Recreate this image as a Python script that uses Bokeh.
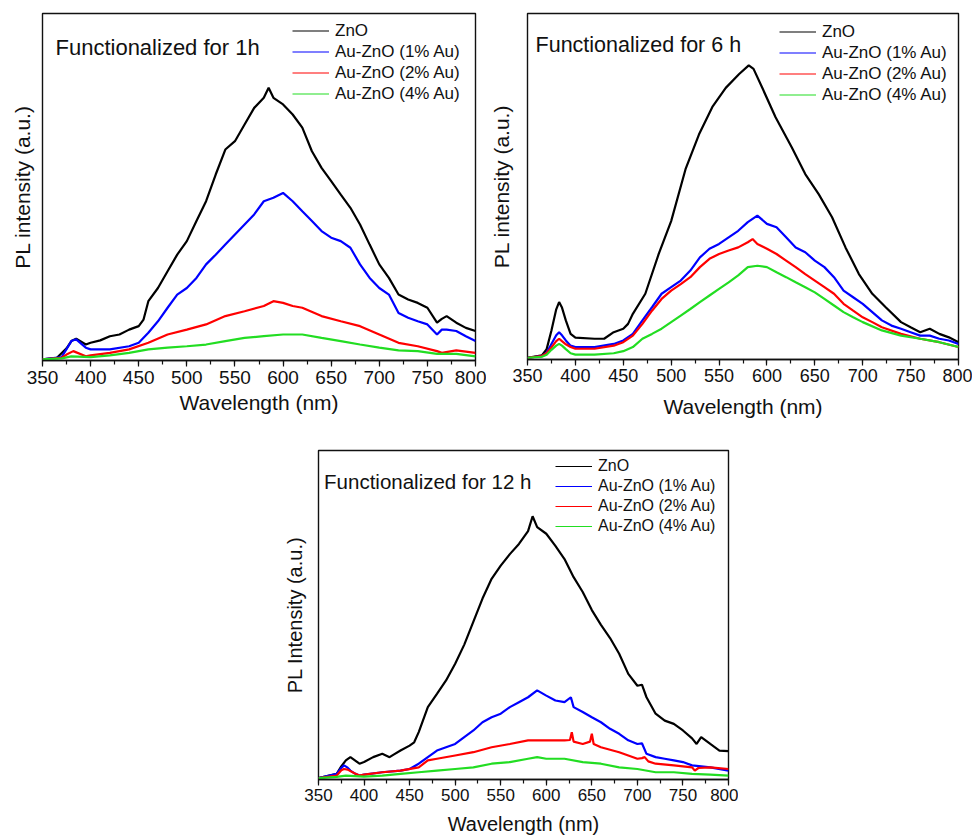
from bokeh.plotting import figure
from bokeh.layouts import column, row, Spacer
from bokeh.models import (Range1d, SingleIntervalTicker, FixedTicker, Legend,
                          LegendItem, Label)
from bokeh.embed import file_html
from bokeh.resources import INLINE

FONT = "Liberation Sans"
NAN = float("nan")

SERIES_NAMES = ["ZnO", "Au-ZnO (1% Au)", "Au-ZnO (2% Au)", "Au-ZnO (4% Au)"]
SERIES_COLORS = ["#000000", "#0000ff", "#ff0000", "#22dd22"]

# ---------------- Functionalized for 1 h ----------------
wl_1h_zno = [350, 365, 375, 380, 385, 395, 400, 410, 420, 430, 440, 450, 455, 460, 470,
             480, 490, 500, 510, 520, 530, 540, 550, 560, 570, 580, 585, 590, 600, 610,
             620, 630, 640, 650, 660, 670, 680, 690, 700, 710, 720, 730, 740, 750, 760,
             765, 770, 780, 790, 800]
pl_1h_zno = [0.3, 0.8, 3.5, 5.6, 6.3, 4.6, 5.1, 5.8, 7.0, 7.5, 8.9, 9.9, 11.8, 17.1, 20.9,
             25.7, 30.5, 34.4, 40.2, 45.9, 53.6, 60.8, 63.2, 68.0, 72.8, 75.7, 78.6, 75.7,
             73.8, 70.9, 67.1, 60.3, 55.5, 51.7, 47.8, 44.0, 39.2, 33.4, 27.7, 23.8, 19.0,
             17.6, 16.6, 15.2, 10.9, 12.0, 12.8, 10.9, 9.4, 8.5]

wl_1h_au1 = [350, 370, 380, 385, 395, 400, 420, 440, 450, 460, 470, 480, 490, 500, 510,
             520, 530, 540, 550, 560, 570, 580, 590, 600, 610, 620, 630, 640, 650, 660,
             670, 680, 690, 700, 710, 720, 730, 740, 750, 760, 765, 770, 780, 790, 800]
pl_1h_au1 = [0.3, 1.0, 5.6, 6.1, 3.7, 3.2, 3.2, 4.1, 5.1, 8.0, 11.3, 15.2, 19.0, 20.9, 23.8,
             27.7, 30.5, 33.4, 36.3, 39.2, 42.1, 45.9, 46.9, 48.3, 45.9, 43.0, 40.2, 37.3,
             35.4, 34.4, 32.5, 27.7, 23.8, 20.9, 19.0, 13.7, 12.3, 11.3, 10.4, 7.5, 8.9,
             8.9, 8.5, 7.0, 5.6]

wl_1h_au2 = [350, 370, 375, 382, 395, 400, 420, 440, 460, 480, 500, 520, 540, 560, 580,
             590, 600, 610, 620, 640, 660, 680, 700, 720, 740, 760, 765, 780, 800]
pl_1h_au2 = [0.3, 0.8, 1.7, 2.7, 1.2, 1.5, 2.2, 3.2, 5.1, 7.5, 8.9, 10.4, 12.8, 14.2, 15.7,
             17.1, 16.6, 15.7, 15.2, 12.8, 11.3, 9.9, 7.5, 5.1, 4.1, 2.7, 2.2, 2.9, 2.2]

wl_1h_au4 = [350, 370, 380, 400, 420, 440, 460, 480, 500, 520, 540, 560, 580, 600, 620,
             640, 660, 680, 700, 720, 740, 760, 780, 800]
pl_1h_au4 = [0.3, 0.6, 1.2, 1.0, 1.5, 2.2, 3.2, 3.7, 4.1, 4.6, 5.6, 6.5, 7.0, 7.5, 7.5,
             6.5, 5.6, 4.6, 3.7, 2.9, 2.7, 1.9, 1.9, 1.2]

# ---------------- Functionalized for 6 h ----------------
wl_6h_zno = [350, 365, 370, 375, 380, 383, 386, 390, 395, 400, 420, 430, 440, 450, 455,
             460, 473, 487, 500, 515, 529, 543, 557, 571, 581, 586, 595, 609, 626, 640,
             654, 668, 682, 696, 710, 724, 740, 750, 760, 770, 780, 790, 800]
pl_6h_zno = [0.5, 1.2, 3.0, 8.4, 14.5, 16.6, 15.0, 11.3, 7.4, 6.3, 6.0, 6.0, 7.9, 8.9, 10.3,
             13.2, 19.0, 30.5, 40.0, 55.0, 65.0, 73.0, 78.5, 82.5, 85.0, 84.0, 78.6, 70.0,
             61.3, 53.6, 47.8, 41.1, 32.4, 24.7, 19.0, 15.1, 10.8, 9.3, 7.9, 8.9, 7.4, 6.4,
             5.0]

wl_6h_au1 = [350, 365, 370, 375, 380, 383, 386, 390, 395, 400, 420, 440, 450, 460, 470,
             480, 490, 500, 510, 520, 530, 540, 550, 560, 570, 580, 590, 600, 610, 620,
             630, 640, 650, 660, 670, 680, 690, 700, 710, 720, 730, 740, 750, 760, 770,
             780, 790, 800]
pl_6h_au1 = [0.5, 1.0, 2.0, 4.5, 7.0, 7.9, 7.0, 5.5, 4.0, 3.6, 3.6, 4.5, 5.5, 7.4, 11.3,
             15.1, 19.0, 20.9, 22.8, 25.7, 29.5, 32.0, 33.4, 35.3, 37.2, 39.7, 41.6, 39.2,
             38.2, 35.3, 32.4, 31.0, 28.6, 26.7, 23.8, 19.9, 18.0, 16.1, 13.7, 11.3, 9.8,
             8.9, 7.9, 6.9, 6.9, 6.0, 5.5, 4.5]

wl_6h_au2 = [350, 365, 370, 375, 380, 383, 386, 390, 395, 400, 420, 440, 450, 460, 470,
             480, 490, 500, 510, 520, 530, 540, 550, 560, 570, 580, 585, 590, 600, 610,
             620, 630, 640, 650, 660, 670, 680, 690, 700, 710, 720, 740, 760, 780, 800]
pl_6h_au2 = [0.5, 1.0, 1.8, 3.5, 5.3, 6.0, 5.3, 4.4, 3.6, 3.1, 3.1, 4.0, 5.0, 6.9, 10.3,
             14.1, 17.5, 19.9, 21.8, 23.8, 26.7, 29.1, 30.5, 31.5, 32.4, 33.9, 34.8, 33.4,
             32.0, 30.5, 28.6, 26.7, 24.7, 22.8, 20.9, 19.0, 16.1, 14.1, 12.2, 10.8, 9.3,
             7.4, 6.0, 5.0, 3.6]

wl_6h_au4 = [350, 365, 370, 375, 380, 383, 386, 390, 395, 400, 420, 440, 450, 460, 470,
             480, 490, 500, 510, 520, 530, 540, 550, 560, 570, 580, 590, 600, 610, 620,
             630, 640, 650, 660, 670, 680, 690, 700, 720, 740, 760, 780, 800]
pl_6h_au4 = [0.5, 0.8, 1.4, 2.8, 4.0, 4.5, 4.0, 3.0, 1.8, 1.4, 1.4, 1.8, 2.4, 3.6, 6.0,
             7.4, 8.9, 10.8, 12.7, 14.6, 16.6, 18.5, 20.4, 22.3, 24.3, 26.7, 27.1, 26.7,
             25.2, 23.8, 22.3, 20.9, 19.4, 17.5, 15.6, 13.7, 12.2, 10.8, 8.4, 6.9, 6.0,
             5.0, 3.6]

# ---------------- Functionalized for 12 h ----------------
wl_12h_zno = [350, 370, 375, 380, 385, 390, 395, 400, 410, 420, 428, 432, 440, 450, 455,
              460, 470, 480, 490, 500, 510, 520, 530, 540, 550, 560, 570, 580, 585, 590,
              600, 610, 620, 630, 640, 650, 660, 670, 680, 690, 700, 705, 710, 720, 730,
              740, 750, 760, 765, 770, 780, 790, 800]
pl_12h_zno = [0.4, 1.7, 4.0, 5.8, 6.8, 5.8, 4.8, 5.3, 6.8, 7.8, 6.8, 7.5, 8.8, 10.3, 11.3,
              14.4, 22.0, 26.0, 30.1, 35.2, 41.0, 48.0, 55.0, 61.0, 65.0, 68.5, 71.6, 75.5,
              80.0, 76.7, 74.7, 71.0, 67.0, 61.5, 57.0, 51.5, 47.0, 43.0, 38.2, 32.1, 28.5,
              28.8, 25.0, 20.0, 17.9, 16.9, 14.9, 12.5, 10.8, 12.9, 10.8, 8.8, 8.6]

wl_12h_au1 = [350, 370, 375, 378, 382, 385, 390, 395, 400, 420, 440, 450, 460, 470, 480,
              490, 500, 510, 520, 530, 540, 550, 560, 570, 580, 590, 600, 610, 620, 627,
              630, 640, 650, 660, 670, 680, 690, 700, 705, 710, 720, 730, 740, 750, 760,
              780, 800]
pl_12h_au1 = [0.4, 1.7, 3.5, 4.3, 3.6, 2.7, 1.8, 1.2, 1.5, 2.2, 2.7, 3.2, 4.8, 6.8, 8.8,
              9.8, 10.8, 12.9, 14.9, 17.4, 18.9, 20.0, 22.0, 23.5, 25.0, 27.1, 25.5, 24.0,
              23.5, 25.0, 22.0, 20.5, 18.9, 17.4, 15.4, 13.9, 11.9, 10.8, 11.0, 7.8, 6.8,
              6.3, 5.8, 5.3, 4.3, 3.7, 2.7]

wl_12h_au2 = [350, 370, 375, 378, 382, 390, 395, 400, 420, 440, 460, 470, 480, 500, 520,
              540, 560, 580, 600, 620, 626, 628, 630, 640, 648, 650, 652, 660, 680, 700,
              705, 708, 712, 720, 740, 760, 763, 767, 780, 800]
pl_12h_au2 = [0.4, 1.2, 2.8, 3.2, 3.0, 1.8, 1.2, 1.5, 2.2, 2.7, 3.7, 5.8, 6.3, 7.3, 8.3,
              9.8, 10.8, 11.9, 11.9, 11.9, 12.0, 14.4, 11.5, 10.8, 11.5, 13.9, 10.8, 9.8,
              8.3, 6.3, 6.5, 6.8, 5.5, 4.8, 4.3, 3.7, 2.7, 3.5, 3.7, 3.2]

wl_12h_au4 = [350, 370, 380, 400, 420, 440, 460, 480, 500, 520, 540, 560, 580, 590, 600,
              620, 640, 660, 680, 700, 720, 740, 760, 780, 800]
pl_12h_au4 = [0.4, 0.8, 1.2, 0.9, 1.2, 1.7, 2.2, 2.7, 3.2, 3.7, 4.8, 5.3, 6.3, 6.8, 6.3,
              6.3, 5.3, 4.8, 3.7, 3.2, 2.2, 2.2, 1.7, 1.5, 1.2]


def make_panel(title, ylabel, curves, frame_w, frame_h, borders, fonts, standoffs,
               title_pos, legend_loc, row_h):
    left, right, top, bottom = borders
    tick_fs, label_fs, title_fs, legend_fs = fonts
    tick_standoff, xlabel_standoff, ylabel_standoff = standoffs

    p = figure(frame_width=frame_w, frame_height=frame_h,
               min_border_left=left, min_border_right=right,
               min_border_top=top, min_border_bottom=bottom,
               x_range=Range1d(350, 800), y_range=Range1d(0, 100),
               output_backend="svg", toolbar_location=None)
    p.grid.visible = False
    p.background_fill_color = "white"
    p.border_fill_color = "white"
    p.outline_line_color = "#111111"
    p.outline_line_width = 1.4

    # x axis: outward major/minor ticks every 50 / 25 nm
    xa = p.xaxis[0]
    xa.ticker = SingleIntervalTicker(interval=50, num_minor_ticks=2)
    xa.axis_line_color = "#111111"
    xa.axis_line_width = 1.4
    xa.major_tick_in = 0
    xa.major_tick_out = 6
    xa.minor_tick_in = 0
    xa.minor_tick_out = 4
    xa.major_tick_line_color = "#111111"
    xa.minor_tick_line_color = "#111111"
    xa.major_tick_line_width = 1.2
    xa.minor_tick_line_width = 1.2
    xa.major_label_text_font = FONT
    xa.major_label_text_font_size = f"{tick_fs}px"
    xa.major_label_text_color = "#111111"
    xa.major_label_standoff = tick_standoff
    xa.axis_label = "Wavelength (nm)"
    xa.axis_label_text_font = FONT
    xa.axis_label_text_font_size = f"{label_fs}px"
    xa.axis_label_text_font_style = "normal"
    xa.axis_label_text_color = "#111111"
    xa.axis_label_standoff = xlabel_standoff

    # y axis: arbitrary units, no ticks
    ya = p.yaxis[0]
    ya.ticker = FixedTicker(ticks=[])
    ya.axis_line_color = None
    ya.major_tick_in = 0
    ya.major_tick_out = 0
    ya.minor_tick_in = 0
    ya.minor_tick_out = 0
    ya.major_label_standoff = 0
    ya.axis_label = ylabel
    ya.axis_label_text_font = FONT
    ya.axis_label_text_font_size = f"{label_fs}px"
    ya.axis_label_text_font_style = "normal"
    ya.axis_label_text_color = "#111111"
    ya.axis_label_standoff = ylabel_standoff

    # spectra
    for (wl, pl), color in zip(curves, SERIES_COLORS):
        p.line(wl, pl, line_color=color, line_width=2.2)

    # thin key lines for the legend (a single undefined point, so nothing is drawn)
    items = []
    for name, color in zip(SERIES_NAMES, SERIES_COLORS):
        key = p.line([NAN], [NAN], line_color=color, line_width=1.2)
        items.append(LegendItem(label=name, renderers=[key]))

    legend = Legend(items=items, location=legend_loc,
                    border_line_color=None, background_fill_alpha=0,
                    padding=0, margin=0, spacing=0,
                    glyph_width=37, glyph_height=row_h, label_height=row_h,
                    label_standoff=6,
                    label_text_font=FONT, label_text_font_size=f"{legend_fs}px",
                    label_text_color="#111111")
    p.add_layout(legend)

    tx, ty = title_pos
    p.add_layout(Label(x=tx, y=ty, text=title, text_font=FONT,
                       text_font_size=f"{title_fs}px", text_color="#111111",
                       text_baseline="alphabetic", text_align="left"))
    return p


p1 = make_panel("Functionalized for 1h", "PL intensity (a.u.)",
                [(wl_1h_zno, pl_1h_zno), (wl_1h_au1, pl_1h_au1),
                 (wl_1h_au2, pl_1h_au2), (wl_1h_au4, pl_1h_au4)],
                frame_w=433, frame_h=347, borders=(42, 11, 12, 80),
                fonts=(19, 21, 22, 17), standoffs=(4, 4, 9),
                title_pos=(363.5, 90.3), legend_loc=(250, 256), row_h=21)

p2 = make_panel("Functionalized for 6 h", "PL intensity (a.u.)",
                [(wl_6h_zno, pl_6h_zno), (wl_6h_au1, pl_6h_au1),
                 (wl_6h_au2, pl_6h_au2), (wl_6h_au4, pl_6h_au4)],
                frame_w=431, frame_h=346, borders=(41, 14, 13, 80),
                fonts=(18, 21, 21.5, 17), standoffs=(3, 10, 15),
                title_pos=(358.4, 90.9), legend_loc=(252, 254), row_h=21)

p3 = make_panel("Functionalized for 12 h", "PL Intensity (a.u.)",
                [(wl_12h_zno, pl_12h_zno), (wl_12h_au1, pl_12h_au1),
                 (wl_12h_au2, pl_12h_au2), (wl_12h_au4, pl_12h_au4)],
                frame_w=410, frame_h=329, borders=(50, 10, 11, 61),
                fonts=(17, 20, 20.5, 16), standoffs=(3, 9, 13),
                title_pos=(356.1, 90.6), legend_loc=(237, 243), row_h=20)

layout = column(row(p1, p2), row(Spacer(width=268, height=10), p3))

with open("out.html", "w") as f:
    f.write(file_html(layout, INLINE, title="PL spectra"))
